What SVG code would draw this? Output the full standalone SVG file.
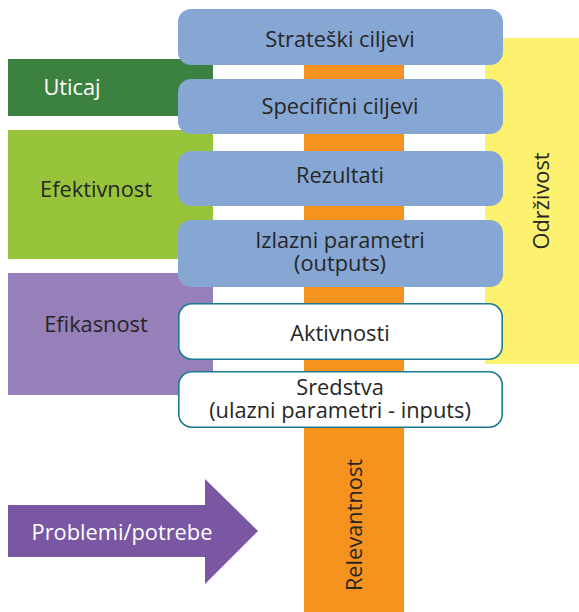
<svg xmlns="http://www.w3.org/2000/svg" width="579" height="612" viewBox="0 0 579 612">
<style>
text{font-family:"Open Sans","Noto Sans","Liberation Sans",sans-serif;font-size:21.8px;fill:#262626;text-anchor:middle}
.w{fill:#ffffff}
.blue{fill:#86a6d4}
.white{fill:#ffffff;stroke:#1d7a94;stroke-width:1.6}
</style>
<rect width="579" height="612" fill="#ffffff"/>
<g id="connectors"></g>
<g id="uticaj"><rect x="8" y="59" width="205" height="57" fill="#3b8140"/><text class="w" x="72" y="95">Uticaj</text></g>
<g id="efektivnost"><rect x="8" y="130" width="205" height="129" fill="#98c43c"/><text x="96" y="197">Efektivnost</text></g>
<g id="efikasnost"><rect x="8" y="273" width="205" height="122" fill="#977fb9"/><text x="96" y="332">Efikasnost</text></g>
<g id="odrzivost"><rect x="485" y="38" width="94" height="326" fill="#fdf270"/><text transform="translate(549,201) rotate(-90)">Održivost</text></g>
<g id="relevantnost"><rect x="304" y="60" width="100" height="552" fill="#f6921e"/><text transform="translate(362,525) rotate(-90)">Relevantnost</text></g>
<g id="strateski"><rect class="blue" x="178" y="9" width="325" height="56" rx="13"/><text x="340" y="47">Strateški ciljevi</text></g>
<g id="specificni"><rect class="blue" x="178" y="79" width="325" height="55" rx="13"/><text x="340" y="114">Specifični ciljevi</text></g>
<g id="rezultati"><rect class="blue" x="178" y="151" width="325" height="55" rx="13"/><text x="340" y="183">Rezultati</text></g>
<g id="izlazni"><rect class="blue" x="178" y="220" width="325" height="67" rx="13"/><text x="340" y="248">Izlazni parametri</text><text x="340" y="271">(outputs)</text></g>
<g id="aktivnosti"><rect class="white" x="178.8" y="303.8" width="323.4" height="55.4" rx="13"/><text x="340" y="341">Aktivnosti</text></g>
<g id="sredstva"><rect class="white" x="178.8" y="371.8" width="323.4" height="55.4" rx="13"/><text x="340" y="395">Sredstva</text><text x="340" y="418">(ulazni parametri - inputs)</text></g>
<g id="problemi"><polygon points="8,505 205,505 205,479 258,531 205,584 205,557 8,557" fill="#7a57a3"/><text class="w" x="122" y="540">Problemi/potrebe</text></g>
</svg>
